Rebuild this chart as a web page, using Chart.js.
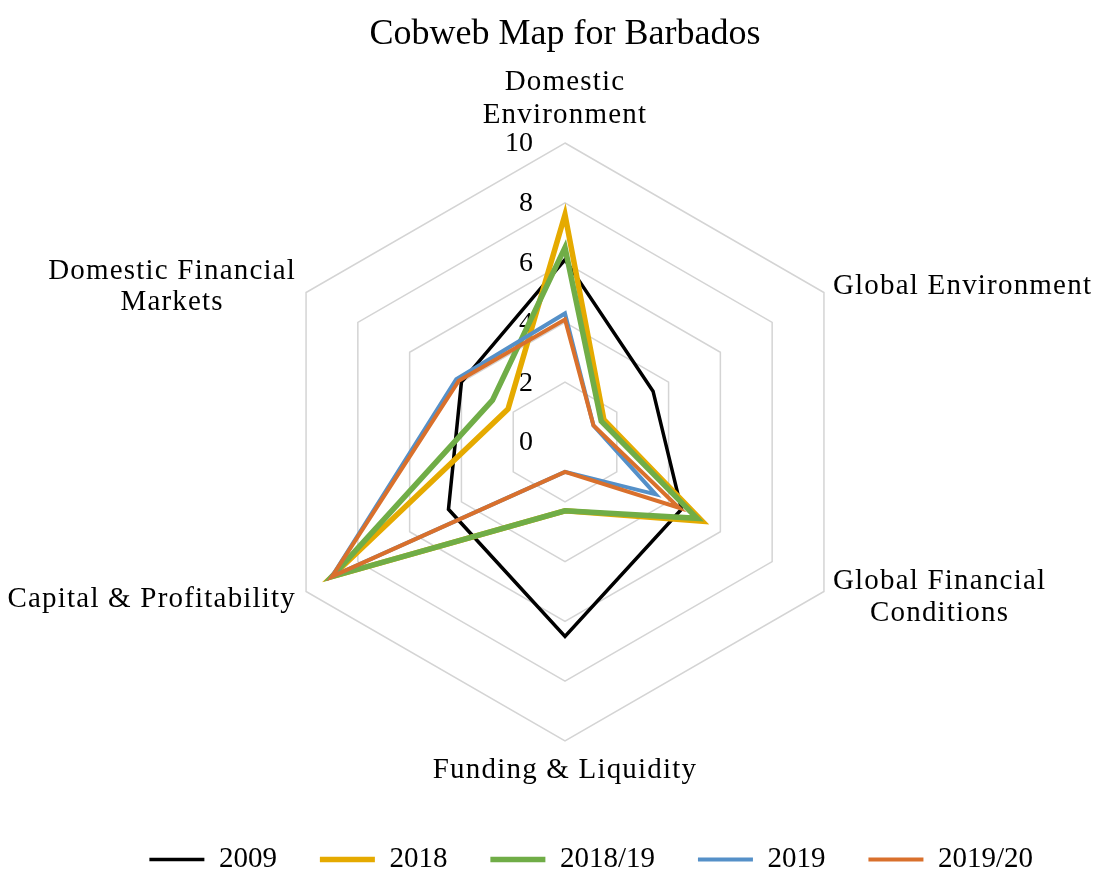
<!DOCTYPE html>
<html>
<head>
<meta charset="utf-8">
<title>Cobweb Map for Barbados</title>
<script src="https://cdn.jsdelivr.net/npm/chart.js@4/dist/chart.umd.min.js"></script>
<style>
  html, body { margin: 0; padding: 0; background: #fff; }
  #wrap { width: 1103px; height: 869px; }
</style>
</head>
<body>
<div id="wrap"><canvas id="cobweb" width="1103" height="869"></canvas></div>
<script>
// ── Data ───────────────────────────────────────────────────────────────────
const AXES = [
  ['Domestic', 'Environment'],
  ['Global Environment'],
  ['Global Financial', 'Conditions'],
  ['Funding & Liquidity'],
  ['Capital & Profitability'],
  ['Domestic Financial', 'Markets'],
];

const SERIES_NAMES = ['2009', '2018', '2018/19', '2019', '2019/20'];

const Y2009   = [6.1, 3.4, 4.5, 6.5, 4.5, 4.0];
const Y2018   = [7.6, 1.5, 5.3, 2.3, 9.0, 2.2];
const Y201819 = [6.5, 1.4, 5.1, 2.3, 9.0, 2.8];
const Y2019   = [4.3, 1.1, 3.5, 1.0, 9.0, 4.2];
const Y201920 = [4.1, 1.1, 4.4, 1.0, 9.0, 4.1];

const SCALE_MIN  = 0;
const SCALE_MAX  = 10;
const SCALE_STEP = 2;

// ── Styles ─────────────────────────────────────────────────────────────────
const COLORS = ['#000000', '#E5AA00', '#70AD47', '#5590C8', '#D9702C'];
const WIDTHS = [3.5, 5.5, 5.5, 4, 4];
const FONT   = '"Liberation Serif", "Times New Roman", serif';

Chart.defaults.font.family = FONT;
Chart.defaults.color = '#000';

// where each axis name sits relative to the outer ring's corner
const PLACE = [
  { side: 'center', dx: 0,   dy: [-61, -28] },
  { side: 'left',   dx: 9,   dy: [-6] },
  { side: 'left',   dx: 9,   dy: [-10, 22] },
  { side: 'center', dx: 0,   dy: [29] },
  { side: 'right',  dx: -10, dy: [8] },
  { side: 'right',  dx: -10, dy: [-21, 10] },
];

// Excel-style texts: value labels left of the vertical axis, axis names in blocks
const cobwebText = {
  id: 'cobwebText',
  beforeDatasetsDraw(chart) {
    const r = chart.scales.r;
    const ctx = chart.ctx;
    ctx.save();
    ctx.fillStyle = '#000';
    ctx.textBaseline = 'middle';

    ctx.font = '28px ' + FONT;
    ctx.textAlign = 'right';
    r.ticks.forEach(t => {
      const p = r.getPointPositionForValue(0, t.value);
      ctx.fillText(t.label, r.xCenter - 32, p.y + 1);
    });

    ctx.font = '29px ' + FONT;
    ctx.letterSpacing = '1.2px';
    ctx.textAlign = 'center';
    AXES.forEach((lines, i) => {
      const v  = r.getPointPosition(i, r.drawingArea);
      const pl = PLACE[i];
      const w  = Math.max(...lines.map(s => ctx.measureText(s).width));
      let cx = v.x;
      if (pl.side === 'left')  cx = v.x + pl.dx + w / 2;
      if (pl.side === 'right') cx = v.x + pl.dx - w / 2;
      lines.forEach((s, k) => ctx.fillText(s, cx, v.y + pl.dy[k]));
    });
    ctx.restore();
  }
};

const VALUES = [Y2009, Y2018, Y201819, Y2019, Y201920];

new Chart(document.getElementById('cobweb'), {
  type: 'radar',
  data: {
    labels: AXES,
    datasets: SERIES_NAMES.map((name, i) => ({
      label: name,
      data: VALUES[i],
      borderColor: COLORS[i],
      backgroundColor: COLORS[i],
      borderWidth: WIDTHS[i],
      borderJoinStyle: 'miter',
      borderCapStyle: 'round',
      fill: false,
      pointRadius: 0,
      pointHoverRadius: 0,
      order: SERIES_NAMES.length - i,
    }))
  },
  options: {
    responsive: false,
    animation: false,
    events: [],
    layout: { padding: { left: 54, right: 27, top: 0, bottom: -15 } },
    plugins: {
      title: {
        display: true,
        text: 'Cobweb Map for Barbados',
        color: '#000',
        font: { size: 36, weight: 'normal' },
        padding: { top: 13, bottom: 87 }
      },
      legend: {
        position: 'bottom',
        align: 'end',
        title: { display: true, text: '', font: { size: 12 }, padding: { top: 45, bottom: 0 } },
        labels: {
          color: '#000',
          font: { size: 29 },
          usePointStyle: true,
          pointStyle: 'line',
          pointStyleWidth: 55,
          padding: 43,
          sort: (a, b) => a.datasetIndex - b.datasetIndex
        }
      },
      tooltip: { enabled: false }
    },
    scales: {
      r: {
        min: SCALE_MIN,
        max: SCALE_MAX,
        ticks: { stepSize: SCALE_STEP, display: false },
        grid: { color: '#D4D4D4', lineWidth: 1.5 },
        angleLines: { display: false },
        pointLabels: { display: false }
      }
    }
  },
  plugins: [cobwebText]
});
</script>
</body>
</html>
